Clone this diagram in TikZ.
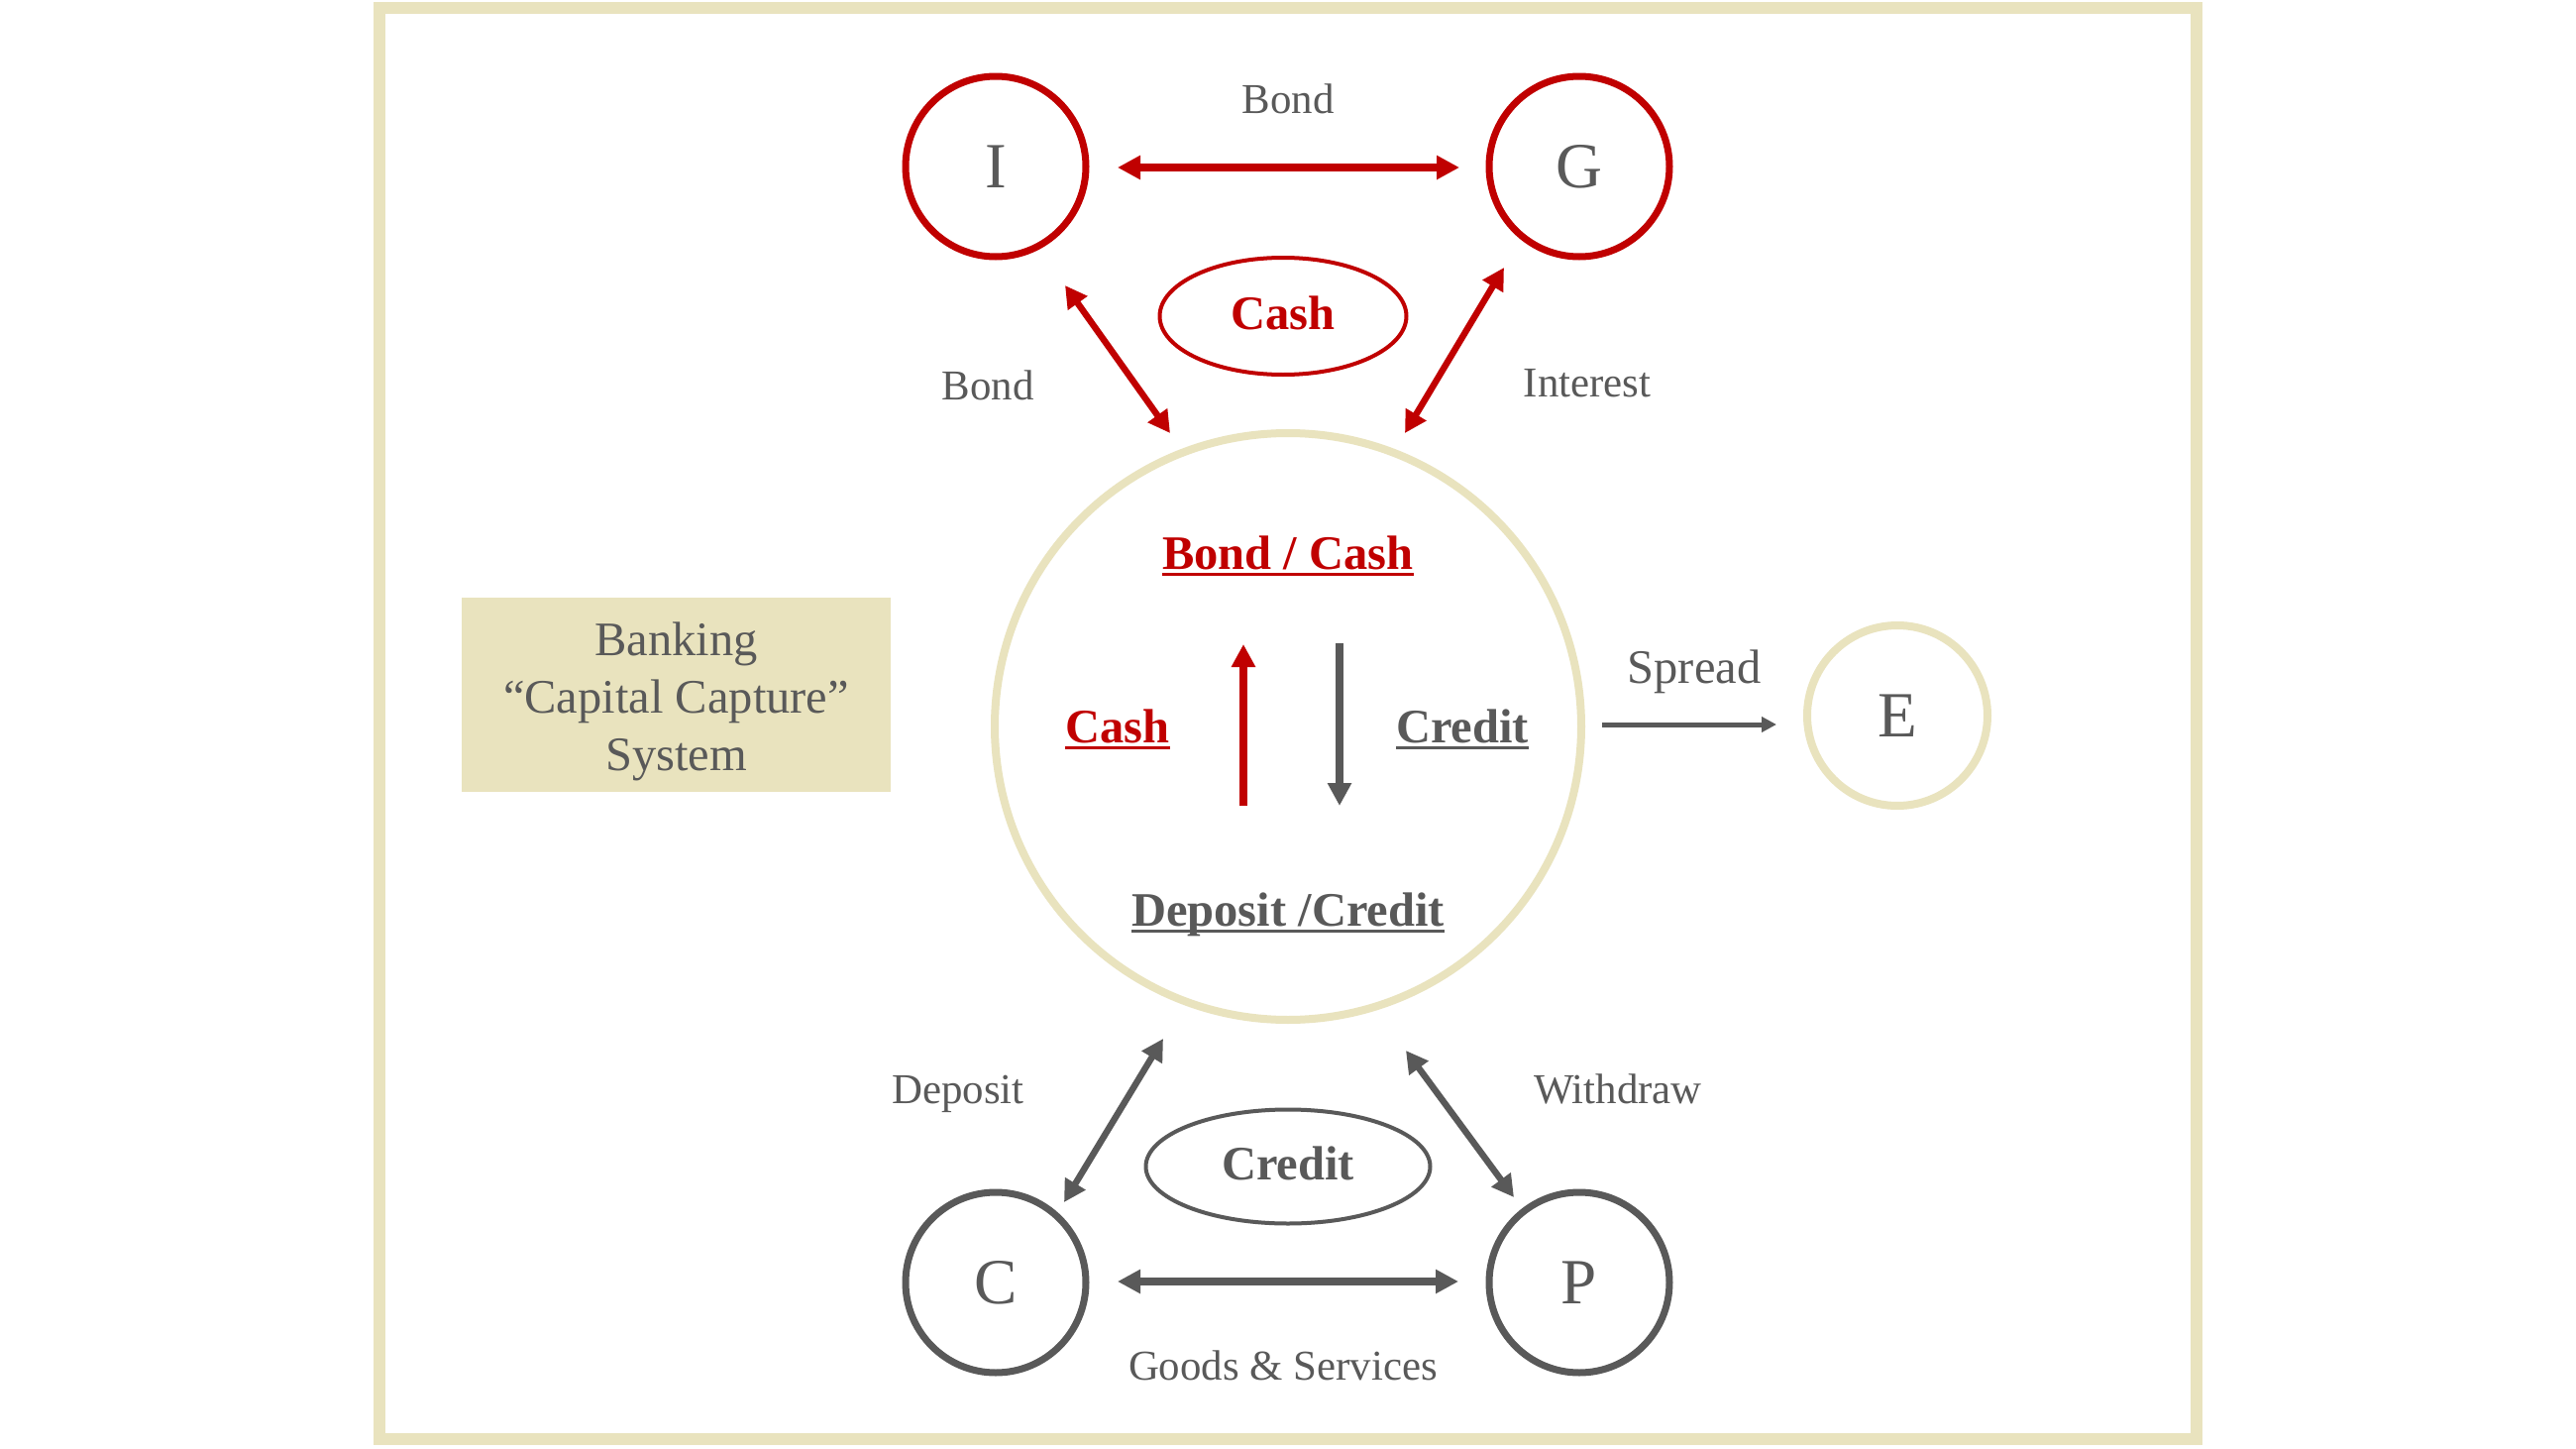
\documentclass[tikz,border=0pt]{standalone}
\usepackage{fontspec}
\setmainfont{Liberation Serif}
\usetikzlibrary{arrows.meta,shapes.geometric,calc}
\definecolor{myred}{HTML}{C00000}
\definecolor{mygrey}{HTML}{595959}
\definecolor{mybeige}{HTML}{E9E3BE}
\newcommand\ulx[1]{\setbox0\hbox{#1}\rlap{\rule[-2.1pt]{\wd0}{0.85pt}}\box0}
\tikzset{
  smalltxt/.style={font=\fontsize{12.2}{14}\selectfont, text=mygrey, inner sep=0pt, anchor=base},
  medtxt/.style={font=\fontsize{13.8}{16.4}\selectfont, inner sep=0pt, anchor=base},
  bigtxt/.style={font=\fontsize{18.5}{20}\selectfont, text=mygrey},
  ringbase/.style={circle, line width=0.7mm, minimum size=18.2mm, inner sep=0pt, bigtxt},
  redring/.style={ringbase, draw=myred},
  greyring/.style={ringbase, draw=mygrey},
  beigering/.style={ringbase, draw=mybeige, line width=0.8mm},
  ovalbase/.style={ellipse, line width=0.4mm, inner sep=0pt, font=\fontsize{13.8}{16.4}\selectfont\bfseries},
  redbig/.style={draw=myred, line width=0.8mm, {Triangle[length=2.3mm,width=2.3mm]}-{Triangle[length=2.3mm,width=2.3mm]}},
  greybig/.style={draw=mygrey, line width=0.8mm, {Triangle[length=2.3mm,width=2.3mm]}-{Triangle[length=2.3mm,width=2.3mm]}},
  reddiag/.style={draw=myred, line width=0.65mm, {Triangle[length=2.2mm,width=2.3mm]}-{Triangle[length=2.2mm,width=2.3mm]}},
  greydiag/.style={draw=mygrey, line width=0.65mm, {Triangle[length=2.2mm,width=2.3mm]}-{Triangle[length=2.2mm,width=2.3mm]}},
  innerarrow/.style={line width=0.8mm, -{Triangle[length=2.3mm,width=2.3mm]}},
}
\begin{document}
\begin{tikzpicture}[x=0.1mm,y=-0.1mm]
\useasboundingbox (0,0) rectangle (2600,1462);
\fill[white] (0,0) rectangle (2600,1462);
% frame
\draw[mybeige, line width=1.2mm] (383,8) rectangle (2217,1452);
% banking box
\node[fill=mybeige, minimum width=43.3mm, minimum height=19.6mm, inner sep=0pt] (bankbox) at (682.5,701) {};
\node[align=center, text=mygrey, inner sep=0pt, font=\fontsize{13.8}{16.4}\selectfont] (banktext) at (682.5,708)
      {Banking\\``Capital Capture''\\System};
% main nodes
\node[redring] (I) at (1005,168) {I};
\node[redring] (G) at (1594,168) {G};
\node[greyring] (C) at (1005,1294) {C};
\node[greyring] (P) at (1594,1294) {P};
\node[beigering] (E) at (1915,722) {E};
\node[circle, draw=mybeige, line width=0.8mm, minimum size=59.2mm, inner sep=0pt] (bank) at (1300,733) {};
\node[ovalbase, draw=myred, text=myred, minimum width=24.9mm, minimum height=11.8mm, text depth=0.75mm] (cashE) at (1295,319) {Cash};
\node[ovalbase, draw=mygrey, text=mygrey, minimum width=28.7mm, minimum height=11.5mm, text depth=0.65mm] (credE) at (1300,1177) {Credit};
% labels
\node[smalltxt] (tBondTop) at (1300,114) {Bond};
\node[smalltxt] (tBondL) at (997,403) {Bond};
\node[smalltxt] (tInterest) at (1602,400) {Interest};
\node[smalltxt] (tDeposit) at (967,1113) {Deposit};
\node[smalltxt] (tWithdraw) at (1633,1113) {Withdraw};
\node[smalltxt] (tGoods) at (1295,1392) {Goods \& Services};
\node[medtxt, text=mygrey] (tSpread) at (1710,689) {Spread};
\node[medtxt, text=myred, font=\fontsize{13.8}{16.4}\selectfont\bfseries] (tBondCash) at (1300,574) {\ulx{Bond / Cash}};
\node[medtxt, text=myred, font=\fontsize{13.8}{16.4}\selectfont\bfseries] (tCash) at (1128,749) {\ulx{Cash}};
\node[medtxt, text=mygrey, font=\fontsize{13.8}{16.4}\selectfont\bfseries] (tCredit) at (1476,749) {\ulx{Credit}};
\node[medtxt, text=mygrey, font=\fontsize{13.8}{16.4}\selectfont\bfseries] (tDepCred) at (1300,934) {\ulx{Deposit /Credit}};
% connectors
\draw[redbig] ($(I)+(123,1)$) -- ($(G)+(-121,1)$);
\draw[greybig] ($(C)+(123,-1)$) -- ($(P)+(-122,-1)$);
\draw[reddiag] ($(I)+(70,120)$) -- ($(bank)+(-119,-296)$);
\draw[reddiag] ($(G)+(-76,102)$) -- ($(bank)+(118,-296)$);
\draw[greydiag] ($(bank)+(-126,315)$) -- ($(C)+(69,-81)$);
\draw[greydiag] ($(bank)+(119,327)$) -- ($(P)+(-66,-86)$);
\draw[draw=mygrey, line width=0.5mm, -{Triangle[length=1.5mm,width=1.5mm]}] ($(bank)+(317,-2)$) -- ($(E)+(-122,9)$);
\draw[innerarrow, draw=myred] ($(bank)+(-45,80)$) -- ($(bank)+(-45,-83)$);
\draw[innerarrow, draw=mygrey] ($(bank)+(52,-84)$) -- ($(bank)+(52,80)$);
\end{tikzpicture}
\end{document}
